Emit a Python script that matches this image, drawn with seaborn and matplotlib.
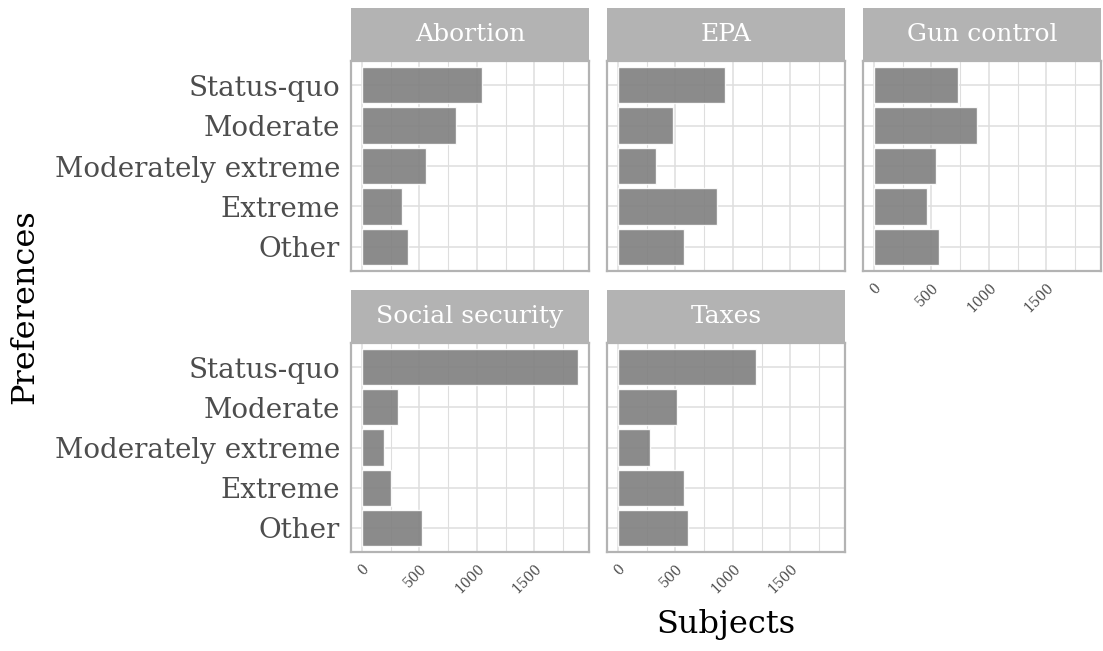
import pandas as pd
import matplotlib.pyplot as plt
import seaborn as sns

# data
issues = ["Abortion", "EPA", "Gun control", "Social security", "Taxes"]
preferences = ["Status-quo", "Moderate", "Moderately extreme", "Extreme", "Other"]
abortion = [1043, 816, 555, 346, 398]
epa = [932, 479, 331, 862, 575]
gun_control = [732, 897, 540, 462, 566]
social_security = [1880, 311, 189, 250, 520]
taxes = [1202, 514, 279, 575, 610]
x_ticks = [0, 500, 1000, 1500]
x_minor = [250, 750, 1250, 1750]

values = [abortion, epa, gun_control, social_security, taxes]
df = pd.DataFrame({
    "issue": [i for i in issues for _ in preferences],
    "preference": preferences * len(issues),
    "subjects": [v for vals in values for v in vals],
})

sns.set_theme(style="white")
plt.rcParams["font.family"] = ["DejaVu Serif"]

W, H = 1103, 651
fig = plt.figure(figsize=(W / 100, H / 100), dpi=100)

cols = [(351, 589), (607, 845), (863, 1101)]
rows = [(8, 61, 271), (290, 343, 552)]  # strip top, panel top, panel bottom

border = "#b3b3b3"
grid = "#dedede"
xmax = df["subjects"].max()
xlim = (-0.05 * xmax, 1.05 * xmax)

for k, issue in enumerate(issues):
    r, c = divmod(k, 3)
    x0, x1 = cols[c]
    st, pt, pb = rows[r]
    ax = fig.add_axes([x0 / W, 1 - pb / H, (x1 - x0) / W, (pb - pt) / H])
    sub = df[df["issue"] == issue]
    ax.set_axisbelow(True)
    sns.barplot(data=sub, x="subjects", y="preference", order=preferences,
                color="#7f7f7f", saturation=1, alpha=0.9, width=0.9,
                errorbar=None, ax=ax)
    ax.set_xlim(*xlim)
    ax.set_ylim(len(preferences) - 0.4, -0.6)
    ax.set_xticks(x_ticks)
    ax.set_xticks(x_minor, minor=True)
    ax.grid(True, which="major", color=grid, linewidth=1.1)
    ax.grid(True, which="minor", axis="x", color=grid, linewidth=0.8)
    for s in ax.spines.values():
        s.set_color(border)
        s.set_linewidth(1.6)
    ax.set_xlabel("")
    ax.set_ylabel("")
    ax.tick_params(which="both", length=0)
    ax.tick_params(which="major", color=border, width=1.1)
    # y tick labels only in first column
    if c == 0:
        ax.tick_params(axis="y", length=5, labelsize=20, labelcolor="#4d4d4d", pad=3)
    else:
        ax.set_yticklabels([])
    # x tick labels on the lowest panel of each column
    if r == 1 or c == 2:
        ax.tick_params(axis="x", length=5, labelsize=10, labelcolor="#4d4d4d", pad=2)
        for lab in ax.get_xticklabels():
            lab.set_rotation(45)
            lab.set_ha("right")
            lab.set_va("top")
            lab.set_rotation_mode("anchor")
    else:
        ax.set_xticklabels([])

    # facet strip
    sax = fig.add_axes([x0 / W, 1 - pt / H, (x1 - x0) / W, (pt - st) / H])
    sax.set_facecolor(border)
    sax.set_xticks([])
    sax.set_yticks([])
    for s in sax.spines.values():
        s.set_visible(False)
    sax.text(0.5, 0.5, issue, color="white", fontsize=18,
             ha="center", va="center", transform=sax.transAxes)

fig.text(726 / W, 1 - 625 / H, "Subjects", fontsize=23, color="black",
         ha="center", va="center")
fig.text(25 / W, 1 - 307 / H, "Preferences", fontsize=23, color="black",
         rotation=90, ha="center", va="center")

fig.savefig("out.png", dpi=100)
